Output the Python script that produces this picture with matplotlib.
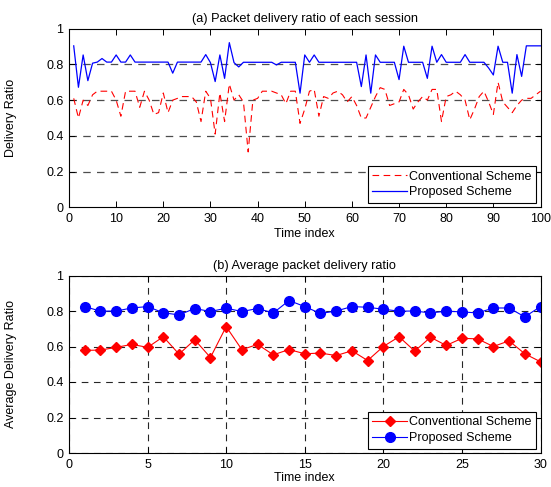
import matplotlib
matplotlib.use("Agg")
import matplotlib.pyplot as plt
import numpy as np

plt.rcParams['font.family'] = ['Liberation Sans', 'DejaVu Sans']

# ---- data: top panel (100 sessions) ----
time_index_a = list(range(1, 101))
conventional_a = [0.61, 0.50, 0.60, 0.57, 0.63, 0.65, 0.65, 0.65, 0.65, 0.60,
                  0.51, 0.65, 0.65, 0.65, 0.56, 0.65, 0.60, 0.52, 0.53, 0.64,
                  0.53, 0.60, 0.61, 0.62, 0.62, 0.62, 0.59, 0.48, 0.65, 0.61,
                  0.41, 0.64, 0.48, 0.69, 0.60, 0.63, 0.59, 0.31, 0.60, 0.61,
                  0.65, 0.65, 0.65, 0.64, 0.63, 0.58, 0.65, 0.65, 0.47, 0.55,
                  0.65, 0.66, 0.51, 0.62, 0.61, 0.64, 0.65, 0.63, 0.59, 0.62,
                  0.57, 0.50, 0.50, 0.56, 0.62, 0.67, 0.66, 0.57, 0.58, 0.59,
                  0.66, 0.63, 0.55, 0.59, 0.62, 0.60, 0.66, 0.66, 0.48, 0.62,
                  0.63, 0.65, 0.63, 0.60, 0.49, 0.55, 0.62, 0.65, 0.59, 0.52,
                  0.70, 0.59, 0.56, 0.53, 0.57, 0.60, 0.61, 0.61, 0.63, 0.65]
proposed_a = [0.904, 0.672, 0.853, 0.709, 0.807, 0.813, 0.833, 0.813, 0.813, 0.853,
              0.813, 0.813, 0.853, 0.813, 0.813, 0.813, 0.813, 0.813, 0.813, 0.813,
              0.813, 0.751, 0.813, 0.813, 0.813, 0.813, 0.813, 0.813, 0.855, 0.810,
              0.704, 0.853, 0.722, 0.922, 0.810, 0.786, 0.812, 0.812, 0.812, 0.812,
              0.812, 0.812, 0.812, 0.797, 0.812, 0.812, 0.812, 0.812, 0.639, 0.853,
              0.812, 0.853, 0.812, 0.812, 0.812, 0.812, 0.812, 0.812, 0.812, 0.812,
              0.812, 0.676, 0.853, 0.639, 0.853, 0.812, 0.812, 0.812, 0.812, 0.715,
              0.902, 0.812, 0.812, 0.812, 0.812, 0.722, 0.902, 0.812, 0.855, 0.812,
              0.812, 0.812, 0.812, 0.855, 0.812, 0.812, 0.812, 0.812, 0.780, 0.741,
              0.902, 0.812, 0.812, 0.639, 0.855, 0.733, 0.904, 0.904, 0.904, 0.904]

# ---- data: bottom panel (30 averages) ----
time_index_b = list(range(1, 31))
conventional_b = [0.578, 0.580, 0.595, 0.612, 0.595, 0.655, 0.557, 0.638, 0.538, 0.712,
                  0.582, 0.612, 0.553, 0.583, 0.559, 0.563, 0.549, 0.576, 0.521, 0.600,
                  0.655, 0.574, 0.652, 0.606, 0.646, 0.643, 0.600, 0.632, 0.559, 0.514]
proposed_b = [0.825, 0.799, 0.800, 0.817, 0.825, 0.790, 0.778, 0.814, 0.797, 0.816,
              0.797, 0.814, 0.789, 0.859, 0.825, 0.786, 0.800, 0.825, 0.821, 0.810,
              0.799, 0.800, 0.789, 0.799, 0.795, 0.789, 0.817, 0.817, 0.767, 0.825]

yticks = [0, 0.2, 0.4, 0.6, 0.8, 1]
ytick_labels = ['0', '0.2', '0.4', '0.6', '0.8', '1']

W, H = 551, 487
fig = plt.figure(figsize=(W / 100, H / 100), dpi=100)
fig.patch.set_facecolor('white')

fs = 9
tfs = 9.2
ax1 = fig.add_axes([69 / W, 1 - 207.3 / H, 471.5 / W, 178.6 / H])
ax2 = fig.add_axes([69 / W, 1 - 453 / H, 471.5 / W, 177.5 / H])

leg_kw = dict(loc='lower right', fontsize=fs, fancybox=False,
              edgecolor='black', framealpha=1, handlelength=2.75,
              borderaxespad=0.36, borderpad=0.35, labelspacing=0.3,
              handletextpad=0.2)

# top panel
ax1.plot(time_index_a, conventional_a, color='#ff0000', lw=0.8,
         linestyle=(0, (6, 4)), label='Conventional Scheme')
ax1.plot(time_index_a, proposed_a, color='#0000ff', lw=0.9,
         label='Proposed Scheme')
ax1.set_xlim(0, 100)
ax1.set_ylim(0, 1)
ax1.set_xticks(range(0, 101, 10))
ax1.set_yticks(yticks)
ax1.set_yticklabels(ytick_labels)
for v in [0.2, 0.4, 0.6, 0.8]:
    ax1.axhline(v, color='0.3', lw=0.9, linestyle=(0, (6, 5)), zorder=0)
ax1.set_title('(a) Packet delivery ratio of each session', fontsize=tfs, pad=5)
ax1.set_xlabel('Time index', fontsize=fs, labelpad=2)
ax1.set_ylabel('Delivery Ratio', fontsize=fs, labelpad=21)
leg1 = ax1.legend(**leg_kw)
leg1.get_frame().set_linewidth(0.8)

# bottom panel
ax2.plot(time_index_b, conventional_b, color='#ff0000', lw=0.8, marker='D',
         markersize=5, label='Conventional Scheme')
ax2.plot(time_index_b, proposed_b, color='#0000ff', lw=0.8, marker='o',
         markersize=7, label='Proposed Scheme')
ax2.set_xlim(0, 30)
ax2.set_ylim(0, 1)
ax2.set_xticks(range(0, 31, 5))
ax2.set_yticks(yticks)
ax2.set_yticklabels(ytick_labels)
ax2.grid(True, color='0.15', lw=0.8, linestyle=(0, (6, 5)))
ax2.set_axisbelow(True)
ax2.set_title('(b) Average packet delivery ratio', fontsize=tfs, pad=5)
ax2.set_xlabel('Time index', fontsize=fs, labelpad=1)
ax2.set_ylabel('Average Delivery Ratio', fontsize=fs, labelpad=21)
leg2 = ax2.legend(**leg_kw)
leg2.get_frame().set_linewidth(0.8)

for ax in (ax1, ax2):
    ax.tick_params(direction='in', top=True, right=True, labelsize=fs,
                   length=4, width=0.7, pad=4)
    for s in ax.spines.values():
        s.set_linewidth(0.8)

fig.savefig('out.png', dpi=100)
